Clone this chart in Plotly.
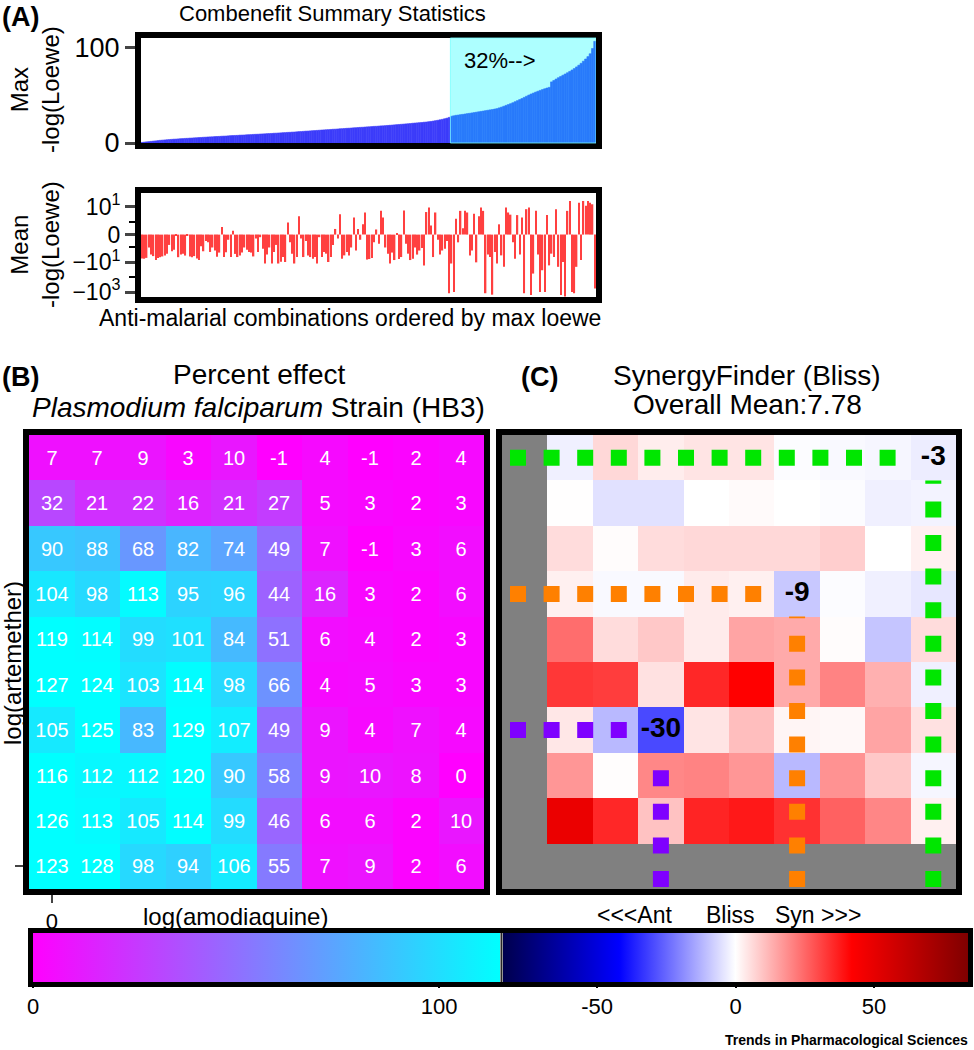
import math
import plotly.graph_objects as go

W, H = 974, 1050

# ---------------- data ----------------
# Panel A: max -log(Loewe) per combination, sorted ascending
max_loewe = [
    0.6, 0.9, 1.2, 1.4, 1.7, 2.0, 2.2, 2.5, 2.8, 3.0,
    3.2, 3.4, 3.6, 3.8, 4.0, 4.1, 4.3, 4.5, 4.6, 4.8,
    4.9, 5.1, 5.2, 5.4, 5.5, 5.7, 5.8, 6.0, 6.1, 6.3,
    6.4, 6.5, 6.7, 6.8, 6.9, 7.1, 7.2, 7.3, 7.5, 7.7,
    7.8, 7.9, 8.0, 8.2, 8.3, 8.4, 8.6, 8.7, 8.8, 9.0,
    9.1, 9.2, 9.4, 9.5, 9.6, 9.8, 9.9, 10.0, 10.2, 10.3,
    10.5, 10.6, 10.8, 10.9, 11.1, 11.2, 11.4, 11.5, 11.7, 11.9,
    12.0, 12.2, 12.4, 12.5, 12.7, 12.9, 13.0, 13.2, 13.4, 13.6,
    13.7, 13.9, 14.0, 14.2, 14.4, 14.5, 14.7, 14.9, 15.0, 15.2,
    15.4, 15.5, 15.7, 15.9, 16.0, 16.2, 16.4, 16.5, 16.7, 16.9,
    17.0, 17.2, 17.4, 17.5, 17.7, 17.9, 18.0, 18.2, 18.4, 18.6,
    18.8, 19.0, 19.2, 19.4, 19.6, 19.8, 20.0, 20.2, 20.4, 20.7,
    20.9, 21.1, 21.3, 21.5, 21.8, 22.0, 22.3, 22.6, 23.0, 23.4,
    23.8, 24.3, 24.8, 25.4, 26.0, 26.8,
    28.0, 28.5, 29.0, 29.3, 29.7, 30.0, 30.4, 30.8, 31.1, 31.5,
    31.9, 32.3, 32.7, 33.1, 33.5, 33.9, 34.3, 34.7, 35.1, 35.6,
    36.0, 36.8, 37.6, 38.5, 39.4, 40.3, 41.2, 42.2, 43.3, 44.4,
    45.5, 46.6, 47.8, 49.0, 50.2, 51.3, 52.3, 53.3, 54.2, 55.1,
    56.0, 56.8, 57.6, 58.3, 64.0, 65.5, 67.0, 68.4, 69.7, 71.0,
    72.3, 73.6, 75.0, 76.5, 78.0, 79.7, 81.5, 83.5, 85.7, 88.0,
    90.5, 93.5, 99.0, 106.5,
]

# Panel A: mean -log(Loewe) for the same ordering
mean_loewe = [
    -5.5, -5.7, -5.0, -1.0, -3.0, -3.8, -7.0, -5.0, -4.5, -4.0,
    -3.4, -2.6, -0.8, -1.8, -1.4, -0.1, -4.5, -3.0, -2.6, -3.5,
    -0.05, -4.0, -4.5, -3.8, -5.5, -7.0, -0.9, -1.8, -0.5, -0.6,
    -2.0, -1.0, -1.6, -4.2, -2.2, 0.6, -4.4, -2.1, -0.4, -4.4,
    0.3, -2.7, -4.4, -3.4, -2.2, -1.0, -1.4, -2.0, -2.2, -4.0,
    -0.3, -2.0, -0.2, -1.2, -12, -3.0, -1.0, -12, -2.0, -0.8,
    -12, -9.0, -4.4, -9.5, 0.95, -0.6, -2.6, -12, -4.4, 2.3,
    -0.3, -4.4, -0.5, -3.4, -4.4, -5.7, -4.4, -12, -0.2, -4.4,
    -2.0, -2.6, -9.5, -4.4, -0.8, 0.44, -0.3, 3.2, -5.7, -3.4,
    -2.0, -3.4, -1.0, 1.9, -1.6, 0.44, -0.4, 0.8, 4.2, -6.5,
    -6.0, -5.0, -0.6, 0.4, -0.7, 5.4, 1.9, -1.0, -2.6, -12,
    -2.2, -7.0, 0.13, -6.0, -4.4, 5.8, -0.7, -2.6, -7.0, -5.7,
    -1.0, -3.0, -1.6, -1.1, -16, 4.5, 9.0, 0.7, -4.4, 4.2,
    -0.4, -3.0, -1.6, -1.2, -0.5, -1200, -12, -1000, 1.6, -0.6,
    5.4, 0.5, 5.4, 4.2, -3.4, -1.6, 3.5, -10, 2.3, 9.0,
    5.4, -1200, -3.0, -4.4, -1500, -2.0, -12, 0.8, -3.4, -20,
    9.0, 4.2, 3.0, -0.6, -5.7, 2.8, -3.0, 1.9, -1200, 7.0,
    9.0, -1600, -57, 5.4, -3.0, -1000, -34, -1000, 2.8, -16,
    -2.6, -4.4, 7.0, -20, -1600, -9.5, -2000, 5.4, 25, -1000,
    -1200, -20, 19, -7.0, 25, 11.7, 25, 19, 15, -570,
]
top_share = 0.32
max_ticks = [0, 100]
mean_tick_vals = [10, 0, -10, -1000]
mean_tick_text = ["10<sup>1</sup>", "0", "\u221210<sup>1</sup>", "\u221210<sup>3</sup>"]
mean_minor_vals = [100, 1, -1, -100]

# Panel B: percent effect, rows listed top (highest artemether) to bottom
pct_effect = [
    [7, 7, 9, 3, 10, -1, 4, -1, 2, 4],
    [32, 21, 22, 16, 21, 27, 5, 3, 2, 3],
    [90, 88, 68, 82, 74, 49, 7, -1, 3, 6],
    [104, 98, 113, 95, 96, 44, 16, 3, 2, 6],
    [119, 114, 99, 101, 84, 51, 6, 4, 2, 3],
    [127, 124, 103, 114, 98, 66, 4, 5, 3, 3],
    [105, 125, 83, 129, 107, 49, 9, 4, 7, 4],
    [116, 112, 112, 120, 90, 58, 9, 10, 8, 0],
    [126, 113, 105, 114, 99, 46, 6, 6, 2, 10],
    [123, 128, 98, 94, 106, 55, 7, 9, 2, 6],
]
effect_ticks = [0, 100]

# Panel C: Bliss synergy, rows top (dose 9) to bottom (dose 1), doses 1..9
bliss = [
    [-2.5, 6.5, 3, 4.5, 4.5, -0.5, -1, -1.5, -3],
    [0.2, -5, -5, 0, 0.8, 0, -0.5, -2.5, -2],
    [5.8, 0.5, 5.8, 6.5, 6.5, 6.5, 8, 0, 2.5],
    [2.5, -1, -1, 3.3, 2.5, -9, -0.5, -2.5, -4],
    [24, 5.8, 9, 3.3, 15, 14, 0.5, -9.5, 5.8],
    [33, 32, 5, 35.5, 42, 14, 20.5, 13, -2.5],
    [4, -11.5, -30, 4.5, 10.7, 1.6, 1.2, 15, 5],
    [17.3, 0.3, 19.8, 20.5, 17.3, -11.5, 18, 9, -1.5],
    [48.6, 35.5, 10, 36, 38, 34, 26, 20, 2.5],
]
bliss_mean_label = "7.78"
highlight_rows = [9, 6, 3]
highlight_cols = [9, 6, 3]
highlight_colors = ["rgb(0,230,0)", "rgb(255,128,0)", "rgb(127,0,255)"]
bliss_ticks = [-50, 0, 50]

FONT = "Liberation Sans, Arial, sans-serif"


def fx(px):
    return px / W


def fy(py):
    return 1 - py / H


# symmetric-log transform used by panel A (bottom)
LIN_PX, DEC_PX = 13.0, 15.0


def symlog(v):
    a = abs(v)
    t = a * LIN_PX / DEC_PX if a <= 1 else LIN_PX / DEC_PX + math.log10(a)
    return math.copysign(t, v)


fig = go.Figure()

# ---------- Panel A top ----------
n = len(max_loewe)
idx = list(range(n))
fig.add_trace(go.Bar(
    x=idx, y=max_loewe, width=1.0,
    marker=dict(color="rgb(60,60,250)", line=dict(width=0.6, color="rgb(60,60,250)")),
    xaxis="x", yaxis="y", hoverinfo="skip"))

# ---------- Panel A bottom ----------
fig.add_trace(go.Bar(
    x=idx, y=[symlog(v) for v in mean_loewe], width=0.62,
    marker=dict(color="rgb(255,64,64)", line=dict(width=0)),
    xaxis="x2", yaxis="y2", hoverinfo="skip"))

# ---------- Panel B ----------
b_rows = pct_effect[::-1]
nb = len(b_rows)
fig.add_trace(go.Heatmap(
    z=b_rows, x=list(range(nb)), y=list(range(nb)),
    text=[[str(v) for v in row] for row in b_rows],
    zmin=0, zmax=115,
    colorscale=[[0, "rgb(255,0,255)"], [1, "rgb(0,255,255)"]],
    texttemplate="%{text}", textfont=dict(color="white", size=20, family=FONT),
    xaxis="x3", yaxis="y3", hoverinfo="skip",
    colorbar=dict(orientation="h", x=fx(33), xanchor="left", y=fy(933), yanchor="top",
                  len=467, lenmode="pixels", thickness=49, thicknessmode="pixels",
                  xpad=0, ypad=0, outlinewidth=0, tickvals=effect_ticks,
                  ticktext=[str(v) for v in effect_ticks],
                  ticks="outside", ticklen=6, tickwidth=2, tickcolor="black",
                  tickfont=dict(size=22, family=FONT, color="black"))))

# ---------- Panel C ----------
nc = len(bliss) + 1
grid = [[None] * nc]
for r in range(1, nc):
    grid.append([None] + list(bliss[nc - 1 - r]))
mask = [[1 if v is None else None for v in row] for row in grid]

fig.add_trace(go.Heatmap(
    z=mask, x=list(range(nc)), y=list(range(nc)), zmin=0, zmax=1,
    colorscale=[[0, "rgb(128,128,128)"], [1, "rgb(128,128,128)"]],
    showscale=False, xaxis="x4", yaxis="y4", hoverinfo="skip"))

fig.add_trace(go.Heatmap(
    z=grid, x=list(range(nc)), y=list(range(nc)), zmin=-84, zmax=84,
    colorscale=[[0, "rgb(0,0,77)"], [0.25, "rgb(0,0,255)"], [0.5, "rgb(255,255,255)"],
                [0.75, "rgb(255,0,0)"], [1, "rgb(128,0,0)"]],
    xaxis="x4", yaxis="y4", hoverinfo="skip",
    colorbar=dict(orientation="h", x=fx(503), xanchor="left", y=fy(933), yanchor="top",
                  len=465, lenmode="pixels", thickness=49, thicknessmode="pixels",
                  xpad=0, ypad=0, outlinewidth=0, tickvals=bliss_ticks,
                  ticktext=[str(v) for v in bliss_ticks],
                  ticks="outside", ticklen=6, tickwidth=2, tickcolor="black",
                  tickfont=dict(size=22, family=FONT, color="black"))))

for r, c, col in zip(highlight_rows, highlight_cols, highlight_colors):
    fig.add_trace(go.Scatter(
        x=[-0.5, c - 0.5], y=[r, r], mode="lines",
        line=dict(color=col, width=16, dash="0px,8px,16px,9.6px"),
        xaxis="x4", yaxis="y4", hoverinfo="skip"))
    fig.add_trace(go.Scatter(
        x=[c, c], y=[-0.5, r - 0.5], mode="lines",
        line=dict(color=col, width=16, dash="0px,2px,16px,15.6px"),
        xaxis="x4", yaxis="y4", hoverinfo="skip"))

fig.add_trace(go.Scatter(
    x=highlight_cols, y=highlight_rows, mode="text",
    text=["<b>%g</b>" % grid[r][c] for r, c in zip(highlight_rows, highlight_cols)],
    textfont=dict(size=28, color="black", family=FONT),
    xaxis="x4", yaxis="y4", hoverinfo="skip"))

# ---------- axes ----------
box = dict(showline=True, mirror=True, linewidth=6, linecolor="black", showgrid=False,
           zeroline=False)
lay = dict(
    width=W, height=H, margin=dict(l=0, r=0, t=0, b=0, pad=0, autoexpand=False),
    paper_bgcolor="white", plot_bgcolor="white", showlegend=False,
    font=dict(family=FONT, color="black"),
    xaxis=dict(domain=[fx(141), fx(596)], anchor="y", range=[-0.5, n - 0.5],
               showticklabels=False, ticks="", **box),
    yaxis=dict(domain=[fy(143), fy(38)], anchor="x", range=[0, 110],
               tickvals=max_ticks, ticks="outside", ticklen=10, tickwidth=2.5,
               tickfont=dict(size=27), **box),
    xaxis2=dict(domain=[fx(141), fx(596)], anchor="y2", range=[-0.5, n - 0.5],
                showticklabels=False, ticks="", **box),
    yaxis2=dict(domain=[fy(297), fy(193)], anchor="x2",
                range=[symlog(-2150), symlog(86)],
                tickvals=[symlog(v) for v in mean_tick_vals], ticktext=mean_tick_text,
                ticks="outside", ticklen=10, tickwidth=2.5, tickfont=dict(size=23),
                minor=dict(tickvals=[symlog(v) for v in mean_minor_vals], ticks="outside",
                           ticklen=6, tickwidth=2, tickcolor="black"),
                **box),
    xaxis3=dict(domain=[fx(29), fx(484)], anchor="y3", range=[-0.5, nb - 0.5],
                tickvals=[0], ticktext=["0"], ticks="outside", ticklen=8, tickwidth=2,
                tickfont=dict(size=22), **box),
    yaxis3=dict(domain=[fy(889), fy(435)], anchor="x3", range=[-0.5, nb - 0.5],
                tickvals=[0], ticktext=[""], ticks="outside", ticklen=8, tickwidth=2,
                **box),
    xaxis4=dict(domain=[fx(502), fx(956)], anchor="y4", range=[-0.5, nc - 0.5],
                showticklabels=False, ticks="", **box),
    yaxis4=dict(domain=[fy(889), fy(435)], anchor="x4", range=[-0.5, nc - 0.5],
                showticklabels=False, ticks="", **box),
)
fig.update_layout(**lay)

# shaded top-32% span in panel A
cut = round(n * (1 - top_share))
fig.add_shape(type="rect", xref="x", yref="y domain", x0=cut - 0.5, x1=n - 0.5, y0=0, y1=1,
              fillcolor="rgba(0,255,255,0.32)", line=dict(width=1, color="rgba(120,255,255,0.8)"),
              layer="above")

# frame around both colour bars
fig.add_shape(type="rect", xref="paper", yref="paper", x0=fx(30.5), x1=fx(970.5),
              y0=fy(984.5), y1=fy(930.5), line=dict(color="black", width=5))
fig.add_shape(type="line", xref="paper", yref="paper", x0=fx(501.5), x1=fx(501.5),
              y0=fy(982), y1=fy(933), line=dict(color="rgb(40,40,40)", width=2))


def ann(text, x, y, size, xanchor="center", angle=0, bold=False):
    if bold:
        text = "<b>" + text + "</b>"
    fig.add_annotation(text=text, x=fx(x), y=fy(y), xref="paper", yref="paper",
                       xanchor=xanchor, yanchor="middle", showarrow=False,
                       textangle=angle, font=dict(size=size, family=FONT, color="black"))


ann("(A)", 0, 17, 27, xanchor="left", bold=True)
ann("Combenefit Summary Statistics", 332, 14, 22)
ann("%d%%-->" % round(top_share * 100), 462, 60, 22, xanchor="left")
ann("Max<br>-log(Loewe)", 35, 90, 24, angle=-90)
ann("Mean<br>-log(Loewe)", 35, 245, 24, angle=-90)
ann("Anti-malarial combinations ordered by max loewe", 350, 318, 23)

ann("(B)", 0, 377, 27, xanchor="left", bold=True)
ann("Percent effect", 259, 374, 28)
ann("<i>Plasmodium falciparum</i> Strain (HB3)", 258, 407, 28)
ann("log(artemether)", 12, 663, 24, angle=-90)
ann("log(amodiaquine)", 235, 916, 24)

ann("(C)", 539, 377, 27, bold=True)
ann("SynergyFinder (Bliss)", 747, 376, 28)
ann("Overall Mean:" + bliss_mean_label, 747, 405, 28)
ann("&lt;&lt;&lt;Ant", 634, 915, 23)
ann("Bliss", 730, 915, 23)
ann("Syn &gt;&gt;&gt;", 818, 915, 23)

ann("Trends in Pharmacological Sciences", 970, 1040, 14, xanchor="right", bold=True)

page_fix = (
    "var gd=document.getElementById('{plot_id}');"
    "document.documentElement.style.margin='0';document.documentElement.style.padding='0';"
    "document.documentElement.style.overflow='hidden';"
    "document.body.style.margin='0';document.body.style.padding='0';"
    "document.body.style.overflow='hidden';"
    "gd.style.position='absolute';gd.style.left='0px';gd.style.top='0px';"
)
fig.write_html("out.html", config={"displayModeBar": False}, post_script=page_fix)
